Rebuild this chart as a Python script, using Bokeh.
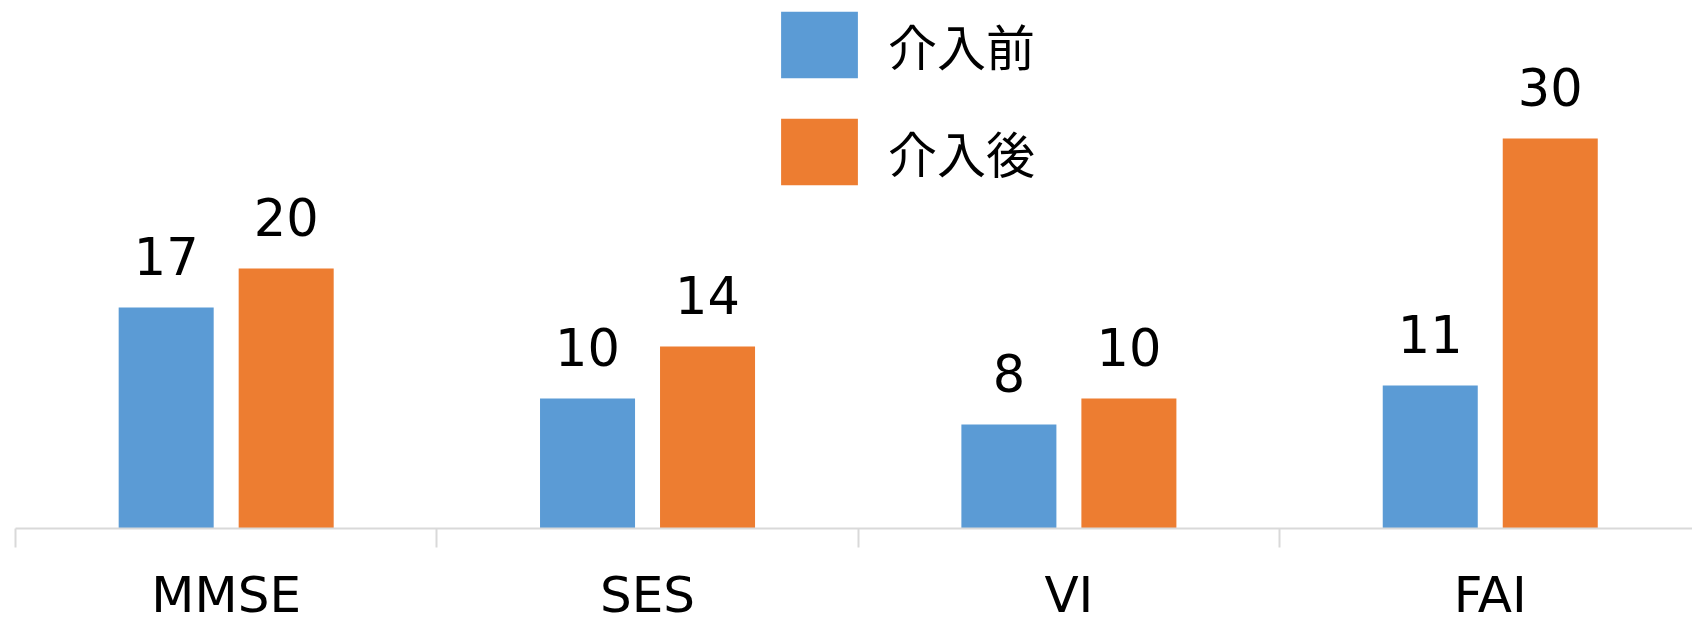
from bokeh.plotting import figure
from bokeh.models import Range1d, FixedTicker, Legend, LegendItem, ColumnDataSource
from bokeh.core.properties import value
from bokeh.embed import file_html
from bokeh.resources import INLINE
import numpy as np

categories = ["MMSE", "SES", "VI", "FAI"]
series_names = ["介入前", "介入後"]
before = [17, 10, 8, 11]
after = [20, 14, 10, 30]
colors = ["#5B9BD5", "#ED7D31"]

idx = np.arange(len(categories))
centers = idx + 0.5
bar_w = 0.2255
offset = 0.1424

p = figure(frame_width=1677, frame_height=528, output_backend="svg", toolbar_location=None,
           x_range=Range1d(0, 3.98), y_range=Range1d(0, 528 / 13.0),
           min_border_left=15, min_border_right=0, min_border_top=0, min_border_bottom=0)
p.outline_line_color = None
p.xgrid.visible = False
p.ygrid.visible = False
p.yaxis.visible = False

renderers = []
label_font = value("DejaVu Sans")
for vals, name, col, sgn in [(before, series_names[0], colors[0], -1), (after, series_names[1], colors[1], 1)]:
    src = ColumnDataSource(dict(x=centers + sgn * offset, top=vals, lab=[str(v) for v in vals]))
    r = p.vbar(x="x", top="top", width=bar_w, bottom=0, source=src, fill_color=col, line_color=None)
    renderers.append((name, r))
    p.text(x="x", y="top", text="lab", source=src, text_align="center", text_baseline="alphabetic",
           y_offset=-52, text_font=label_font, text_font_size="51px", text_color="#000000")

ax = p.xaxis[0]
ax.ticker = FixedTicker(ticks=list(centers), minor_ticks=list(idx.astype(float)) + [float(len(categories))])
ax.major_label_overrides = {float(c): n for c, n in zip(centers, categories)}
ax.major_tick_line_color = None
ax.major_tick_out = 0
ax.major_tick_in = 0
ax.minor_tick_out = 19
ax.minor_tick_in = 0
ax.minor_tick_line_color = "#D9D9D9"
ax.minor_tick_line_width = 2
ax.axis_line_color = "#D9D9D9"
ax.axis_line_width = 2
ax.major_label_text_font = "DejaVu Sans"
ax.major_label_text_font_size = "50px"
ax.major_label_text_color = "#000000"
ax.major_label_standoff = 18

legend = Legend(items=[LegendItem(label=n, renderers=[r]) for n, r in renderers],
                location=(756, 335), orientation="vertical",
                glyph_width=96, glyph_height=83, spacing=24, label_standoff=21,
                padding=0, margin=0, border_line_color=None, background_fill_alpha=0,
                label_text_font="Noto Sans CJK JP", label_text_font_size="49px",
                label_text_color="#000000", label_height=83)
p.add_layout(legend)

open("out.html", "w").write(file_html(p, INLINE))
